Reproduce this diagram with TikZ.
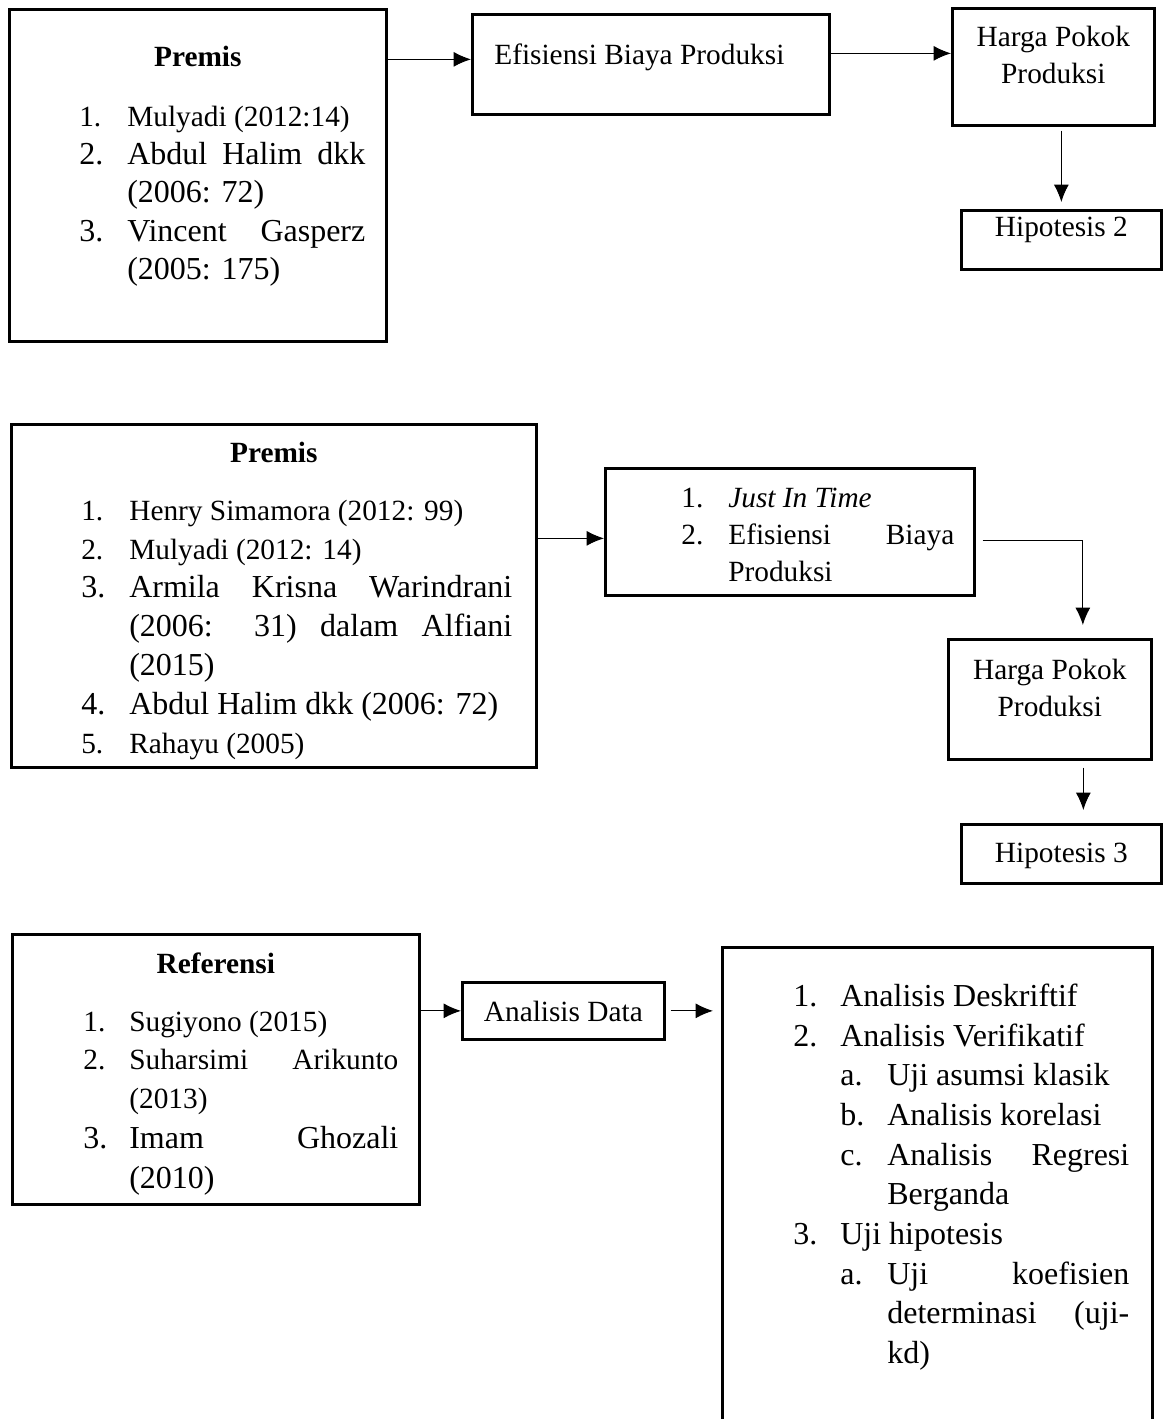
\documentclass[tikz,border=0pt]{standalone}
\usepackage{fontspec}
\setmainfont{Liberation Serif}
\usetikzlibrary{arrows.meta}
\newdimen\px \px=0.375pt
\newdimen\labw
\newcommand{\sz}[2]{\fontsize{#1pt}{#2\px}\selectfont\spaceskip=0.25em plus 1.5em minus 0.05em\relax}
\newcommand{\panel}[6]{\begin{minipage}[c][#2\px][t]{#1\px}\leftskip=#3\px\rightskip=#4\px\labw=#5\px\tolerance=9000\hyphenpenalty=10000\exhyphenpenalty=0 #6\end{minipage}}
\newcommand{\boxhead}[2]{{\centering\bfseries\rule{0pt}{#1\px}#2\par}}
\newcommand{\itm}[3][0]{\par{\advance\leftskip by #1\px\noindent\hangindent=\labw\hangafter=1\makebox[\labw][l]{#2}#3\par}}
\tikzstyle{panel}=[rectangle, draw, line width=1pt, inner sep=0pt, anchor=north west]
\tikzstyle{link}=[line width=0.4pt, -{Latex[length=6.5pt,width=5.6pt]}]

\begin{document}
\begin{tikzpicture}[x=0.375pt, y=-0.375pt]
				\useasboundingbox (0,0) rectangle (1163,1419);
				\clip (0,0) rectangle (1163,1419);
				
				%The first row
				\draw (8,8) node[panel] (prem1) {\panel{377}{332}{70}{21}{48}{\sz{11}{38.3}\boxhead{57}{Premis}\vspace{21.7\px}%
					\itm{1.}{Mulyadi (2012:14)}{\sz{12}{38.3}\itm{2.}{Abdul Halim dkk (2006: 72)}\itm{3.}{Vincent Gasperz (2005: 175)}}}};
				\draw (471,13) node[panel] (eff1) {\panel{357}{100}{22}{0}{0}{\sz{11}{38}\rule{0pt}{50\px}Efisiensi Biaya Produksi}};
				\draw (951,7) node[panel] (hpp1) {\panel{202}{117}{0}{0}{0}{\sz{11}{37}\centering\rule{0pt}{38\px}Harga Pokok\\Produksi}};
				\draw (960,209) node[panel] (hip2) {\panel{200}{59}{0}{0}{0}{\sz{11}{37}\centering\rule{0pt}{26\px}Hipotesis 2}};
				
				%The second row
				\draw (10,423) node[panel] (prem2) {\panel{525}{343}{70}{24}{48}{\sz{11}{38.8}\boxhead{38}{Premis}\vspace{19.2\px}%
					\itm{1.}{Henry Simamora (2012: 99)}\itm{2.}{Mulyadi (2012: 14)}%
					{\sz{12}{38.8}\itm{3.}{Armila Krisna Warindrani (2006: 31) dalam Alfiani (2015)}\itm{4.}{Abdul Halim dkk (2006: 72)}}%
					\itm{5.}{Rahayu (2005)}}};
				\draw (604,467) node[panel] (jit) {\panel{369}{127}{76}{20}{47}{\sz{11}{37}\itm{1.}{\rule{0pt}{39\px}\textit{Just In Time}}\itm{2.}{Efisiensi Biaya Produksi}}};
				\draw (947,638) node[panel] (hpp2) {\panel{203}{120}{0}{0}{0}{\sz{11}{37}\centering\rule{0pt}{40\px}Harga Pokok\\Produksi}};
				\draw (960,823) node[panel] (hip3) {\panel{200}{59}{0}{0}{0}{\sz{11}{37}\centering\rule{0pt}{38\px}Hipotesis 3}};
				
				%The third row
				\draw (11,933) node[panel] (ref) {\panel{407}{270}{71}{21}{46}{\sz{11}{38.5}\boxhead{39}{Referensi}\vspace{19.5\px}%
					\itm{1.}{Sugiyono (2015)}\itm{2.}{Suharsimi Arikunto (2013)}{\sz{12}{40}\itm{3.}{Imam Ghozali (2010)}}}};
				\draw (461,981) node[panel] (ad) {\panel{202}{57}{0}{0}{0}{\sz{11}{37}\centering\rule{0pt}{39\px}Analisis Data}};
				\draw (721,946) node[panel] (big) {\panel{430}{520}{71}{23}{47}{\sz{12}{39.7}%
					\itm{1.}{\rule{0pt}{59\px}Analisis Deskriftif}\itm{2.}{Analisis Verifikatif}%
					\itm[47]{a.}{Uji asumsi klasik}\itm[47]{b.}{Analisis korelasi}\itm[47]{c.}{Analisis Regresi Berganda}%
					\itm{3.}{Uji hipotesis}\itm[47]{a.}{Uji koefisien determinasi (uji-kd)}}};
				
				%The arrows
				\draw[link, transform canvas={yshift=5\px}] (prem1.east |- eff1.west) -- (eff1.west);
				\draw[link, transform canvas={yshift=11\px}] (eff1.east) -- (eff1.east -| hpp1.west);
				\draw[link, shorten <=4\px, shorten >=7\px] (hip2.north |- hpp1.south) -- (hip2.north);
				
				\draw[link, transform canvas={yshift=-6.5\px}] (prem2.east |- jit.west) -- (jit.west);
				\draw[link, shorten <=7\px, shorten >=13\px] ([yshift=-9\px]jit.east) -| ([xshift=33\px]hpp2.north);
				\draw[link, shorten <=7\px, shorten >=13\px, transform canvas={xshift=22\px}] (hip3.north |- hpp2.south) -- (hip3.north);
				
				\draw[link] (ref.east |- ad.west) -- (ad.west);
				\draw[link, shorten <=5\px, shorten >=8\px] (ad.east) -- (ad.east -| big.west);
			\end{tikzpicture}
\end{document}
